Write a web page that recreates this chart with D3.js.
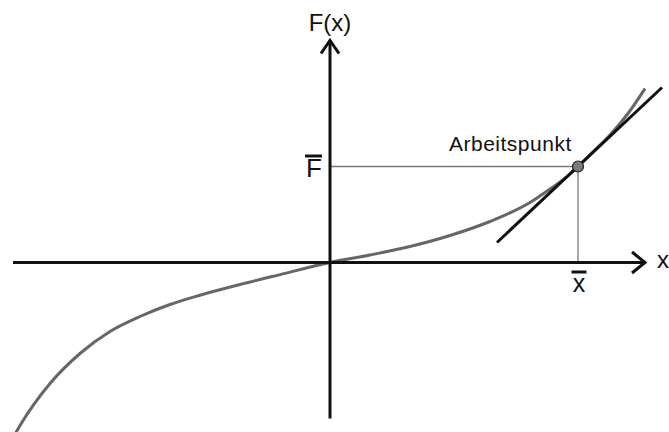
<!DOCTYPE html>
<html>
<head>
<meta charset="utf-8">
<script src="https://cdn.jsdelivr.net/npm/d3@7"></script>
<style>
  html, body { margin: 0; padding: 0; background: #fff; }
  svg { display: block; }
  text { font-family: "Liberation Sans", Arial, sans-serif; fill: #111; }
</style>
</head>
<body>
<svg id="chart" width="669" height="432"></svg>
<script>
// Characteristic curve F(x), sampled points
const curveX = [-3.30, -3.10, -2.80, -2.50, -2.20, -1.90, -1.60, -1.30, -0.90, -0.50, 0.00,
                0.40, 0.80, 1.20, 1.60, 2.00, 2.20, 2.40, 2.48, 2.64, 2.80, 2.98, 3.15];
const curveF = [-2.00, -1.63, -1.21, -0.91, -0.69, -0.54, -0.42, -0.327, -0.22, -0.121, 0.00,
                0.075, 0.16, 0.27, 0.41, 0.60, 0.735, 0.885, 0.96, 1.115, 1.275, 1.49, 1.74];

// Operating point and its tangent
const opX = [2.48];
const opF = [0.96];
const tangentX = [1.67, 3.32];
const tangentF = [0.20, 1.75];

// Axis extents (data units)
const axisX = [-3.17, 3.15];
const axisF = [-1.56, 2.22];

// Labels
const labels = { xAxis: "x", fAxis: "F(x)", xBar: "x", fBar: "F", op: "Arbeitspunkt" };

const svg = d3.select("#chart");
const W = 669, H = 432;

const xS = d3.scaleLinear().domain([-3.30, 3.39]).range([0, W]);
const yS = d3.scaleLinear().domain([-1.695, 2.625]).range([H, 0]);

const x0 = xS(0), y0 = yS(0);

// Guide lines to the operating point
svg.append("line")
  .attr("x1", x0).attr("y1", yS(opF[0]))
  .attr("x2", xS(opX[0])).attr("y2", yS(opF[0]))
  .attr("stroke", "#777").attr("stroke-width", 1.3);
svg.append("line")
  .attr("x1", xS(opX[0])).attr("y1", yS(opF[0]))
  .attr("x2", xS(opX[0])).attr("y2", y0)
  .attr("stroke", "#777").attr("stroke-width", 1.3);

// Curve
const pts = curveX.map((d, i) => [d, curveF[i]]);
svg.append("path")
  .datum(pts)
  .attr("d", d3.line().x(d => xS(d[0])).y(d => yS(d[1])).curve(d3.curveMonotoneX))
  .attr("fill", "none").attr("stroke", "#666").attr("stroke-width", 3);

// Tangent
svg.append("line")
  .attr("x1", xS(tangentX[0])).attr("y1", yS(tangentF[0]))
  .attr("x2", xS(tangentX[1])).attr("y2", yS(tangentF[1]))
  .attr("stroke", "#111").attr("stroke-width", 3);

// Operating point marker
svg.append("circle")
  .attr("cx", xS(opX[0])).attr("cy", yS(opF[0])).attr("r", 5.5)
  .attr("fill", "#7a7a7a").attr("stroke", "#222").attr("stroke-width", 1.2);

// Axes
const axisStyle = sel => sel.attr("stroke", "#111").attr("stroke-width", 3).attr("fill", "none");
svg.append("line").call(axisStyle)
  .attr("x1", xS(axisX[0])).attr("y1", y0).attr("x2", xS(axisX[1])).attr("y2", y0);
svg.append("line").call(axisStyle)
  .attr("x1", x0).attr("y1", yS(axisF[0])).attr("x2", x0).attr("y2", yS(axisF[1]));

// Arrowheads
const xt = xS(axisX[1]), yt = yS(axisF[1]);
svg.append("path").call(axisStyle).attr("stroke-linejoin", "miter")
  .attr("d", `M${xt - 13},${y0 - 10.5}L${xt},${y0}L${xt - 13},${y0 + 10.5}`);
svg.append("path").call(axisStyle).attr("stroke-linejoin", "miter")
  .attr("d", `M${x0 - 9},${yt + 13}L${x0},${yt}L${x0 + 9},${yt + 13}`);

// Axis titles
svg.append("text").attr("x", x0).attr("y", 31).attr("text-anchor", "middle")
  .attr("font-size", 24).text(labels.fAxis);
svg.append("text").attr("x", 657).attr("y", 268)
  .attr("font-size", 24).text(labels.xAxis);

// F-bar label
svg.append("text").attr("x", 306).attr("y", 177)
  .attr("font-size", 26).text(labels.fBar);
svg.append("line").attr("x1", 305).attr("x2", 322).attr("y1", 156).attr("y2", 156)
  .attr("stroke", "#111").attr("stroke-width", 3);

// x-bar label
svg.append("text").attr("x", xS(opX[0]) + 1).attr("y", 292).attr("text-anchor", "middle")
  .attr("font-size", 25).text(labels.xBar);
svg.append("line").attr("x1", xS(opX[0]) - 6.5).attr("x2", xS(opX[0]) + 8.5)
  .attr("y1", 272).attr("y2", 272)
  .attr("stroke", "#111").attr("stroke-width", 3);

// Operating point label
svg.append("text").attr("x", 449).attr("y", 151)
  .attr("font-size", 21).attr("letter-spacing", 0.5).text(labels.op);
</script>
</body>
</html>
